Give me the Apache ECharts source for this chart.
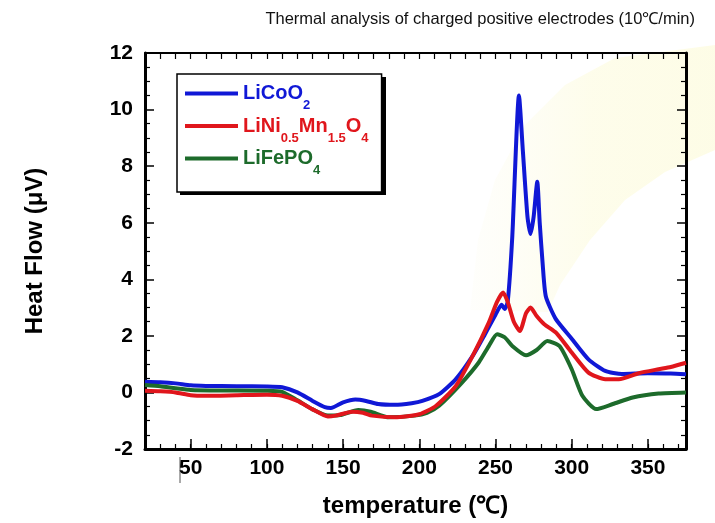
<!DOCTYPE html>
<html lang="en">
<head>
    <meta charset="UTF-8">
    <title>Thermal analysis</title>
    <script src="https://cdn.jsdelivr.net/npm/echarts@6/dist/echarts.min.js"></script>
    <style>
        html, body { margin: 0; padding: 0; background: #fff; }
        #chart { width: 715px; height: 523px; }
    </style>
</head>
<body>
<div id="chart"></div>
<script type="text/javascript">
// temperature (°C) and heat flow (µV)
var licooT = [20, 30, 40, 50, 60, 80, 100, 110, 120, 130, 138, 142, 150, 158, 165, 173, 184, 195, 202, 213, 224, 235, 243, 250, 254, 256, 258, 261, 265.4, 268, 271, 273, 275, 277.4, 279, 281, 283, 289.5, 300, 311, 322, 333, 350, 365, 375];
var licooV = [0.38, 0.36, 0.32, 0.25, 0.23, 0.22, 0.21, 0.18, 0.0, -0.3, -0.52, -0.55, -0.35, -0.25, -0.3, -0.41, -0.44, -0.38, -0.3, -0.06, 0.47, 1.29, 2.05, 2.75, 3.1, 2.95, 3.2, 5.5, 10.5, 8.5, 6.2, 5.6, 6.2, 7.45, 6.0, 4.5, 3.4, 2.6, 1.9, 1.17, 0.76, 0.65, 0.68, 0.67, 0.64];

var lnmoT = [20, 30, 40, 50, 60, 80, 100, 110, 120, 130, 140, 145, 156, 163, 169, 184, 200, 211, 224, 235, 245.6, 251, 255, 258, 262, 266, 270, 273, 277, 282, 290, 300, 311, 322, 331, 344, 357, 365, 375];
var lnmoV = [0.06, 0.04, 0.0, -0.1, -0.12, -0.1, -0.08, -0.12, -0.3, -0.6, -0.85, -0.82, -0.68, -0.72, -0.82, -0.88, -0.77, -0.47, 0.23, 1.29, 2.47, 3.2, 3.53, 3.2, 2.5, 2.17, 2.8, 3.0, 2.7, 2.41, 2.1, 1.41, 0.7, 0.47, 0.47, 0.68, 0.82, 0.9, 1.05];

var lfpT = [20, 30, 40, 50, 70, 100, 110, 120, 130, 140, 148, 160, 168, 180, 197, 205, 213, 228, 239, 245.6, 251, 256, 261, 270, 277, 284, 292, 300, 307, 316, 327, 340, 357, 375];
var lfpV = [0.26, 0.22, 0.15, 0.09, 0.07, 0.06, 0.02, -0.28, -0.6, -0.82, -0.8, -0.62, -0.68, -0.88, -0.82, -0.72, -0.47, 0.35, 1.06, 1.64, 2.06, 1.95, 1.64, 1.31, 1.5, 1.82, 1.64, 0.82, -0.12, -0.59, -0.41, -0.18, -0.04, 0.0];

var seriesNames = ['LiCoO2', 'LiNi0.5Mn1.5O4', 'LiFePO4'];
var seriesColors = ['#1018d6', '#e0161c', '#1d6b2b'];

var xMajor = [50, 100, 150, 200, 250, 300, 350];
var xMinor = [];
for (var t = 20; t <= 370; t += 10) { xMinor.push(t); }

function zip(xs, ys) {
    var out = [];
    for (var i = 0; i < xs.length; i++) { out.push([xs[i], ys[i]]); }
    return out;
}

var myChart = echarts.init(document.getElementById('chart'));

var font = 'Liberation Sans, Arial, sans-serif';

// legend texts with subscripts
var legendText = {
    'LiCoO2': '{b0|LiCoO}{s0|2}',
    'LiNi0.5Mn1.5O4': '{b1|LiNi}{s1|0.5}{b1|Mn}{s1|1.5}{b1|O}{s1|4}',
    'LiFePO4': '{b2|LiFePO}{s2|4}'
};
var rich = {};
for (var k = 0; k < 3; k++) {
    rich['b' + k] = { color: seriesColors[k], fontSize: 20, fontWeight: 'bold', fontFamily: font, lineHeight: 22 };
    rich['s' + k] = { color: seriesColors[k], fontSize: 13, fontWeight: 'bold', fontFamily: font, lineHeight: 14, padding: [24, 0, 0, 0] };
}

var axisBlack = { color: '#000', width: 3 };

var option = {
    backgroundColor: '#fff',
    animation: false,
    title: {
        text: 'Thermal analysis of charged positive electrodes (10\u2103/min)',
        right: 15,
        top: 6,
        textStyle: { fontSize: 16.5, fontWeight: 'normal', color: '#111', fontFamily: font }
    },
    legend: {
        left: 177,
        top: 74,
        orient: 'vertical',
        icon: 'rect',
        itemWidth: 53,
        itemHeight: 4,
        itemGap: -4.5,
        padding: [1, 13, 15, 8],
        backgroundColor: '#fff',
        borderColor: '#000',
        borderWidth: 1.5,
        borderRadius: 0,
        data: seriesNames,
        formatter: function (name) { return legendText[name]; },
        textStyle: { rich: rich }
    },
    grid: { left: 145, right: 29, top: 53, bottom: 73 },
    xAxis: [
        {
            type: 'value', min: 20, max: 375, position: 'bottom',
            name: 'temperature (\u2103)', nameLocation: 'middle', nameGap: 45,
            nameTextStyle: { fontSize: 24, fontWeight: 'bold', color: '#000', fontFamily: font },
            axisLine: { onZero: false, lineStyle: axisBlack },
            axisTick: { inside: true, length: 10, customValues: xMajor, lineStyle: { color: '#000', width: 1.5 } },
            axisLabel: { customValues: xMajor, fontSize: 21, fontWeight: 'bold', color: '#000', margin: 9, fontFamily: font },
            splitLine: { show: false }
        },
        {
            type: 'value', min: 20, max: 375, position: 'bottom',
            axisLine: { show: false, onZero: false },
            axisTick: { inside: true, length: 5, customValues: xMinor, lineStyle: { color: '#000', width: 1.2 } },
            axisLabel: { show: false },
            splitLine: { show: false }
        },
        {
            type: 'value', min: 20, max: 375, position: 'top',
            axisLine: { onZero: false, lineStyle: { color: '#000', width: 2 } },
            axisTick: { inside: true, length: 6, customValues: xMinor, lineStyle: { color: '#000', width: 1.2 } },
            axisLabel: { show: false },
            splitLine: { show: false }
        }
    ],
    yAxis: [
        {
            type: 'value', min: -2, max: 12, interval: 2, position: 'left',
            name: 'Heat Flow (\u03bcV)', nameLocation: 'middle', nameGap: 98,
            nameTextStyle: { fontSize: 24, fontWeight: 'bold', color: '#000', fontFamily: font },
            axisLine: { onZero: false, lineStyle: axisBlack },
            axisTick: { inside: true, length: 9, lineStyle: { color: '#000', width: 1.5 } },
            minorTick: { show: true, splitNumber: 4, length: 5, lineStyle: { color: '#000', width: 1.2 } },
            axisLabel: { fontSize: 21, fontWeight: 'bold', color: '#000', margin: 12, fontFamily: font },
            splitLine: { show: false }
        },
        {
            type: 'value', min: -2, max: 12, interval: 2, position: 'right',
            axisLine: { onZero: false, lineStyle: axisBlack },
            axisTick: { inside: true, length: 9, lineStyle: { color: '#000', width: 1.5 } },
            minorTick: { show: true, splitNumber: 4, length: 5, lineStyle: { color: '#000', width: 1.2 } },
            axisLabel: { show: false },
            splitLine: { show: false }
        }
    ],
    series: [
        {
            name: seriesNames[0], type: 'line', data: zip(licooT, licooV),
            showSymbol: false, smooth: 0.2, z: 3,
            itemStyle: { color: seriesColors[0] },
            lineStyle: { color: seriesColors[0], width: 4 }
        },
        {
            name: seriesNames[1], type: 'line', data: zip(lnmoT, lnmoV),
            showSymbol: false, smooth: 0.2, z: 5,
            itemStyle: { color: seriesColors[1] },
            lineStyle: { color: seriesColors[1], width: 4 }
        },
        {
            name: seriesNames[2], type: 'line', data: zip(lfpT, lfpV),
            showSymbol: false, smooth: 0.2, z: 4,
            itemStyle: { color: seriesColors[2] },
            lineStyle: { color: seriesColors[2], width: 4 }
        }
    ],
    graphic: [
        {
            // faint yellow watermark behind the peaks
            type: 'polygon', silent: true, z: -10,
            shape: { points: [[470, 310], [478, 240], [495, 180], [525, 125], [565, 85], [615, 58], [715, 45], [715, 150], [665, 172], [625, 200], [590, 240], [560, 285], [548, 312]] },
            style: {
                fill: new echarts.graphic.LinearGradient(0, 0, 1, 0, [
                    { offset: 0, color: 'rgba(250,248,220,0.1)' },
                    { offset: 0.5, color: 'rgba(252,250,210,0.45)' },
                    { offset: 1, color: 'rgba(252,250,210,0.55)' }
                ])
            }
        },
        {
            // drop shadow of the legend box
            type: 'rect', silent: true, z: 1,
            shape: { x: 180, y: 77, width: 206, height: 118 },
            style: { fill: '#000' }
        },
        {
            type: 'line', silent: true,
            shape: { x1: 180, y1: 457, x2: 180, y2: 483 },
            style: { stroke: '#555', lineWidth: 1 }
        }
    ]
};

myChart.setOption(option);
</script>
</body>
</html>
